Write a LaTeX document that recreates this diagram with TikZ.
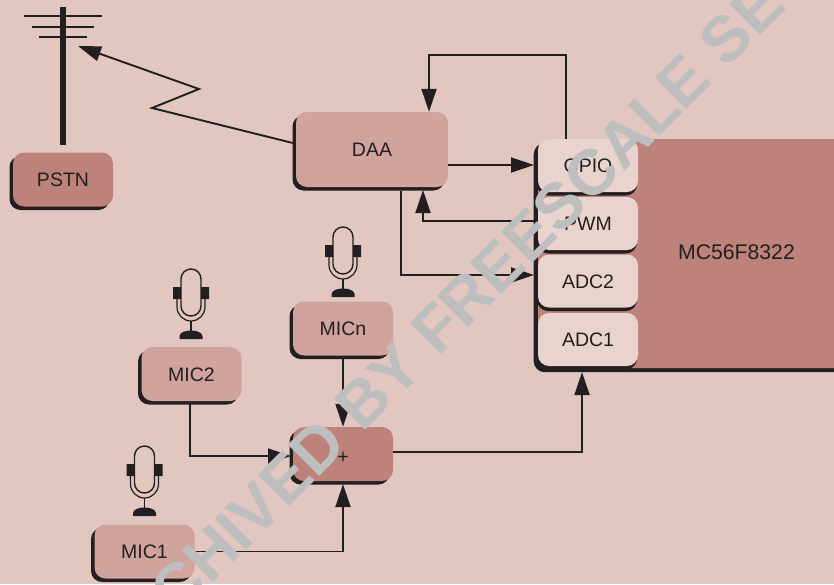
\documentclass[tikz,border=0pt]{standalone}
\usepackage{fontspec}
\setmainfont{Liberation Sans}
\usetikzlibrary{arrows.meta,shadows,calc}
\definecolor{bgc}{RGB}{226,199,193}
\definecolor{midc}{RGB}{208,163,157}
\definecolor{darkc}{RGB}{189,130,122}
\definecolor{lightc}{RGB}{233,211,206}
\definecolor{ink}{RGB}{35,31,32}
\definecolor{wm}{RGB}{190,190,190}
\newcommand{\capt}[1]{\smash{\raisebox{-7pt}{#1}}}
\tikzset{
  box/.style={rounded corners=11pt,inner sep=0pt,text=ink,font=\fontsize{19.5}{22}\selectfont,
    general shadow={shadow xshift=-3.5pt,shadow yshift=-3.5pt,fill=ink}},
  midbox/.style={box,fill=midc,minimum width=100pt,minimum height=54pt},
  darkbox/.style={box,fill=darkc,minimum width=100pt,minimum height=54pt},
  chipbox/.style={rounded corners=11pt,inner sep=0pt,fill=darkc,minimum width=320pt,minimum height=229pt,
    general shadow={shadow xshift=-4.5pt,shadow yshift=-4pt,fill=ink}},
  portbox/.style={rounded corners=11pt,inner sep=0pt,text=ink,font=\fontsize{19.5}{22}\selectfont,
    fill=lightc,minimum width=100pt,minimum height=53pt,
    general shadow={shadow xshift=-1pt,shadow yshift=-3.5pt,fill=ink}},
  conn/.style={draw=ink,line width=1.9pt,line join=miter,-{Triangle[length=23pt,width=15pt]}},
  mic/.pic={
    \draw[ink,line width=1.4pt] (-10,10) -- (-10,37) arc[start angle=180,end angle=0,radius=10] -- (10,10) arc[start angle=0,end angle=-180,radius=10] -- cycle;
    \draw[ink,line width=1.2pt] (-14,30) -- (-14,38) arc[start angle=180,end angle=0,radius=14] -- (14,30);
    \fill[ink] (-18,18) rectangle (-10,30) (10,18) rectangle (18,30);
    \draw[ink,line width=1.5pt] (0,52) -- (0,62);
    \fill[ink] (-11.5,70) -- (-11.5,67) .. controls (-11,63) and (-5,61.5) .. (0,61.5) .. controls (5,61.5) and (11,63) .. (11.5,67) -- (11.5,70) -- cycle;
  }
}
\begin{document}
\begin{tikzpicture}[x=1pt,y=-1pt]
\useasboundingbox (0,0) rectangle (834,584);
\clip (0,0) rectangle (834,584);
\fill[bgc] (0,0) rectangle (834,584);

% pole
\coordinate (poletop) at (63,7);
\draw[ink,line width=6.5pt] (poletop) -- (63,145);
\draw[ink,line width=1.9pt] (24,16) -- (102,16) (32,27) -- (94,27) (39,37) -- (87,37);

% mics
\pic at (343,227) {mic};
\pic at (191,269) {mic};
\pic at (144.5,446) {mic};

% blocks
\node[darkbox] (pstn) at (63,179.5) {\capt{PSTN}};
\node[midbox,minimum width=152pt,minimum height=75pt] (daa) at (372,149.5) {\capt{DAA}};
\node[chipbox,anchor=north west] (chip) at (538,139) {};
\node[portbox] (gpio) at (588,165.5) {\capt{GPIO}};
\node[portbox] (pwm) at (588,223.5) {\capt{PWM}};
\node[portbox] (adc2) at (588,281) {\capt{ADC2}};
\node[portbox] (adc1) at (588,339.5) {\capt{ADC1}};
\node[text=ink,font=\fontsize{21.2}{24}\selectfont,inner sep=0pt] (chiplabel) at (736.5,252.5) {MC56F8322};
\node[midbox] (micn) at (343,328.5) {\capt{MICn}};
\node[midbox] (mic2) at (191.5,374) {\capt{MIC2}};
\node[midbox] (mic1) at (144.5,551.5) {\capt{MIC1}};
\node[darkbox] (plus) at (343,454) {\smash{\raisebox{-9.5pt}{+}}};

% connectors
\coordinate (zig1) at (199,89);
\coordinate (zig2) at (152,108);
\coordinate (anttip) at (78,46);
\draw[conn] ([xshift=-3pt]daa.west |- 0,143) -- (zig2) -- (zig1) -- (anttip);
\draw[conn] ([xshift=-22pt]gpio.north) -- ++(0,-84) -| ([xshift=57pt]daa.north);
\draw[conn] (daa.east |- 0,165) -- (534,165);
\draw[conn] (534,221) -| (423,190);
\draw[conn] (401,191) |- (534,275);
\draw[conn] (micn.south) ++(0,3) -- (plus.north);
\draw[conn] (190,403) |- (291,456);
\draw[conn] (mic1.east) -| (343,484);
\draw[conn] (plus.east |- 0,452) -| (582,372);

% watermark
\node[text=wm,font=\bfseries\fontsize{64.5}{70}\selectfont,inner sep=0pt,anchor=base west,rotate=45] (mark) at (177,619) {CHIVED BY FREESCALE SE};
\end{tikzpicture}
\end{document}
